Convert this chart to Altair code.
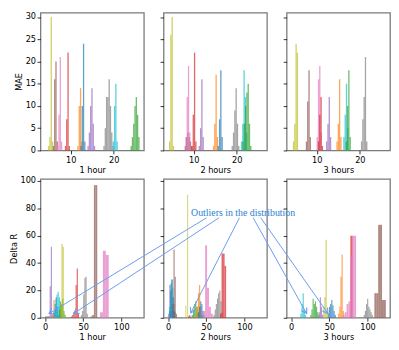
import math
import altair as alt
import pandas as pd

PALETTE_NAMES = ["blue", "orange", "green", "red", "purple", "brown", "pink", "gray", "olive", "cyan"]
PALETTE_HEX = ["#1f77b4", "#ff7f0e", "#2ca02c", "#d62728", "#9467bd",
               "#8c564b", "#e377c2", "#7f7f7f", "#bcbd22", "#17becf"]

PANEL_TITLES = ["1 hour", "2 hours", "3 hours"]
ROW_TITLES = ["MAE", "Delta R"]
TOP_XTICKS = [10, 20]
TOP_YTICKS = [0, 5, 10, 15, 20, 25, 30]
BOT_XTICKS = [0, 50, 100]
BOT_YTICKS = [0, 20, 40, 60, 80, 100]

# (colour, left edge of first bin, bin width, counts per bin)
MAE_1H = [
    ("olive", 4.75, 0.3, [1, 3, 30, 2]),
    ("brown", 5.85, 0.3, [1, 16, 20, 2]),
    ("pink", 6.85, 0.3, [1, 8, 21, 2]),
    ("red", 8.65, 0.3, [1, 7, 22, 1]),
    ("orange", 11.55, 0.3, [1, 10, 14, 2]),
    ("blue", 12.25, 0.3, [1, 10, 24, 2]),
    ("purple", 13.9, 0.3, [1, 4, 10, 14, 6, 1]),
    ("gray", 17.6, 0.3, [1, 5, 12, 12, 16, 10, 4, 1]),
    ("cyan", 19.75, 0.3, [2, 10, 15, 2]),
    ("green", 23.9, 0.3, [1, 3, 6, 10, 12, 8, 3]),
]
MAE_2H = [
    ("olive", 4.25, 0.3, [2, 26, 30, 1]),
    ("brown", 7.9, 0.3, [1, 3, 4, 3, 2, 1]),
    ("pink", 8.05, 0.3, [3, 12, 19, 4]),
    ("red", 9.45, 0.3, [1, 8, 22, 2]),
    ("purple", 11.15, 0.3, [1, 5, 16, 3]),
    ("orange", 14.45, 0.3, [1, 6, 17, 3]),
    ("blue", 15.55, 0.3, [1, 7, 18, 3]),
    ("gray", 18.8, 0.3, [1, 4, 9, 14, 6, 1]),
    ("cyan", 20.95, 0.3, [2, 6, 18, 12, 4]),
    ("green", 21.3, 0.3, [2, 6, 10, 13, 15, 6, 1]),
]
MAE_3H = [
    ("olive", 4.45, 0.3, [2, 6, 24, 22]),
    ("brown", 7.45, 0.3, [2, 11, 18, 3]),
    ("pink", 9.95, 0.3, [3, 16, 19, 4]),
    ("red", 10.25, 0.3, [2, 8, 12, 1]),
    ("purple", 12.15, 0.3, [2, 6, 12, 3]),
    ("orange", 14.55, 0.3, [2, 6, 16, 3]),
    ("cyan", 16.15, 0.3, [3, 8, 15, 5]),
    ("green", 16.7, 0.3, [2, 10, 18, 3]),
    ("gray", 20.25, 0.3, [2, 7, 12, 21, 2]),
]
DR_1H = [
    ("brown", 0, 2, [1, 1, 1]),
    ("purple", 4.5, 1.5, [1, 23, 52, 2]),
    ("orange", 9.5, 1.5, [3, 13, 6, 1]),
    ("blue", 11, 1.5, [4, 10, 15, 8, 2]),
    ("cyan", 12, 1.5, [5, 14, 17, 19, 15, 8, 3]),
    ("green", 18, 1.5, [6, 12, 10, 14, 5, 2]),
    ("olive", 20, 1.5, [10, 54, 52, 3]),
    ("red", 34, 1.5, [1, 2, 4, 5, 24, 36, 3]),
    ("gray", 47, 1.5, [2, 5, 17, 29, 30, 3]),
    ("brown", 59.6, 2.2, [1, 2, 97, 97]),
    ("pink", 72, 3.8, [4, 49, 46]),
]
DR_2H = [
    ("purple", 0, 1.5, [3, 24, 20, 5, 1]),
    ("cyan", 1, 1.5, [8, 20, 28, 22, 10, 4, 1]),
    ("blue", 1.5, 1.5, [5, 25, 28, 15, 5]),
    ("brown", 5.5, 1.5, [10, 50, 30, 3]),
    ("olive", 22.6, 1.2, [9, 0, 90]),
    ("red", 26, 1.5, [1, 2, 1]),
    ("green", 31, 1.5, [2, 6, 10, 12, 8, 4, 1]),
    ("orange", 36, 1.5, [3, 8, 18, 24, 8, 2]),
    ("blue", 39, 1.5, [4, 8, 12, 10, 5, 2]),
    ("pink", 46, 2.5, [5, 53, 22, 8, 3]),
    ("gray", 59.5, 1.5, [2, 6, 10, 14, 18, 20, 12, 4]),
    ("red", 68, 2, [3, 47, 47, 38]),
]
DR_3H = [
    ("cyan", 12, 1.5, [3, 10, 18, 6, 2]),
    ("green", 25, 1.5, [2, 6, 14, 10, 12, 8, 4, 2]),
    ("purple", 36, 1.5, [4, 15, 8, 2]),
    ("olive", 42, 1.5, [8, 15, 57, 5]),
    ("blue", 48, 1.5, [3, 8, 10, 13, 9, 5, 2]),
    ("orange", 61.5, 1.5, [3, 8, 30, 46, 5]),
    ("red", 77.5, 3, [60]),
    ("pink", 67.5, 2.5, [2, 4, 10, 12, 45, 60, 60]),
    ("gray", 95, 1.5, [2, 5, 10, 14, 8, 6, 4, 2]),
    ("brown", 109, 2.5, [18, 18, 68, 68, 13, 13]),
]

# annotation, expressed in the data units of the "3 hours" Delta R panel
ANNOT_TEXT = ["Outliers in the distribution"]
ANNOT_X = [-131.2]
ANNOT_Y = [74.3]
ARROW_TAIL_X = [-110.9, -94.7, -67.9, -49.9, -39.9]
ARROW_TAIL_Y = [73.1, 73.1, 73.1, 73.1, 73.1]
ARROW_HEAD_X = [-317.4, -285.1, -131.6, 20.2, 48.2]
ARROW_HEAD_Y = [3.1, 3.1, 3.6, 3.1, 3.1]

W = 105
H_TOP = 140
H_BOT = 141
TOP_X = [3, 27]
TOP_Y = [0, 31.0]
BOT_X = [-6, 129.5]
BOT_Y = [0, 101.5]
ARROW_COLOR = "#6b9cf0"
TEXT_COLOR = "#2a82d2"


def hist_frame(entries):
    rows = []
    for k, (c, start, w, counts) in enumerate(entries):
        for i, n in enumerate(counts):
            if n > 0:
                rows.append({"k": k, "color": c, "x0": start + i * w,
                             "x1": start + (i + 1) * w, "n": n})
    return pd.DataFrame(rows)


def encodings(xdom, ydom, xticks, yticks, xtitle, ytitle, ylabels):
    X = alt.X("x0:Q", scale=alt.Scale(domain=xdom, nice=False, zero=False),
              axis=alt.Axis(values=xticks, title=xtitle))
    Y = alt.Y("n:Q", scale=alt.Scale(domain=ydom, nice=False),
              axis=alt.Axis(values=yticks, labels=ylabels, title=ytitle))
    return X, Y


def panel(entries, xdom, ydom, xticks, yticks, xtitle, h, ytitle=None, ylabels=True, annotate=False):
    X, Y = encodings(xdom, ydom, xticks, yticks, xtitle, ytitle, ylabels)
    bars = alt.Chart(hist_frame(entries)).mark_bar(opacity=0.7).encode(
        x=X, x2="x1:Q", y=Y, y2=alt.datum(0),
        color=alt.Color("color:N", scale=alt.Scale(domain=PALETTE_NAMES, range=PALETTE_HEX), legend=None),
        order=alt.Order("k:Q"),
    )
    layers = [bars]
    if annotate:
        sx = W / (xdom[1] - xdom[0])
        sy = h / (ydom[1] - ydom[0])
        angs = []
        for tx, ty, hx, hy in zip(ARROW_TAIL_X, ARROW_TAIL_Y, ARROW_HEAD_X, ARROW_HEAD_Y):
            dx = (hx - tx) * sx
            dy = -(hy - ty) * sy
            angs.append(math.degrees(math.atan2(dx, -dy)) % 360)
        arrows = pd.DataFrame({"x0": ARROW_TAIL_X, "n": ARROW_TAIL_Y,
                               "x1": ARROW_HEAD_X, "n2": ARROW_HEAD_Y})
        heads = pd.DataFrame({"x0": ARROW_HEAD_X, "n": ARROW_HEAD_Y, "ang": angs})
        text = pd.DataFrame({"x0": ANNOT_X, "n": ANNOT_Y, "label": ANNOT_TEXT})
        layers.append(alt.Chart(arrows).mark_rule(color=ARROW_COLOR, strokeWidth=1).encode(
            x=X, y=Y, x2="x1:Q", y2="n2:Q"))
        layers.append(alt.Chart(heads).mark_point(
            shape="M-0.6,1L0,0L0.6,1", filled=False, size=110, strokeWidth=1.1,
            color=ARROW_COLOR, opacity=1).encode(
            x=X, y=Y, angle=alt.Angle("ang:Q", scale=None)))
        layers.append(alt.Chart(text).mark_text(
            align="left", baseline="alphabetic", font="Liberation Serif",
            fontSize=10, color=TEXT_COLOR).encode(x=X, y=Y, text="label:N"))
    return alt.layer(*layers).properties(width=W, height=h)


panels = [
    panel(MAE_1H, TOP_X, TOP_Y, TOP_XTICKS, TOP_YTICKS, PANEL_TITLES[0], H_TOP, ytitle=ROW_TITLES[0]),
    panel(MAE_2H, TOP_X, TOP_Y, TOP_XTICKS, TOP_YTICKS, PANEL_TITLES[1], H_TOP, ylabels=False),
    panel(MAE_3H, TOP_X, TOP_Y, TOP_XTICKS, TOP_YTICKS, PANEL_TITLES[2], H_TOP, ylabels=False),
    panel(DR_1H, BOT_X, BOT_Y, BOT_XTICKS, BOT_YTICKS, PANEL_TITLES[0], H_BOT, ytitle=ROW_TITLES[1]),
    panel(DR_2H, BOT_X, BOT_Y, BOT_XTICKS, BOT_YTICKS, PANEL_TITLES[1], H_BOT, ylabels=False),
    panel(DR_3H, BOT_X, BOT_Y, BOT_XTICKS, BOT_YTICKS, PANEL_TITLES[2], H_BOT, ylabels=False, annotate=True),
]

chart = alt.concat(
    *panels, columns=3, spacing={"row": 29, "column": 20}, bounds="flush"
).configure_view(
    stroke="#7a7a7a", strokeWidth=1.3
).configure_axis(
    domain=False, grid=False, tickColor="#000", tickSize=3.5, tickWidth=0.8,
    labelFont="DejaVu Sans", labelFontSize=8.3, labelColor="#000", labelPadding=1.5,
    titleFont="DejaVu Sans", titleFontSize=8.3, titleFontWeight="normal",
    titleColor="#000", titlePadding=2,
).properties(padding=0, background="white")

chart.save("out.html", embed_options={"renderer": "svg", "actions": False})
